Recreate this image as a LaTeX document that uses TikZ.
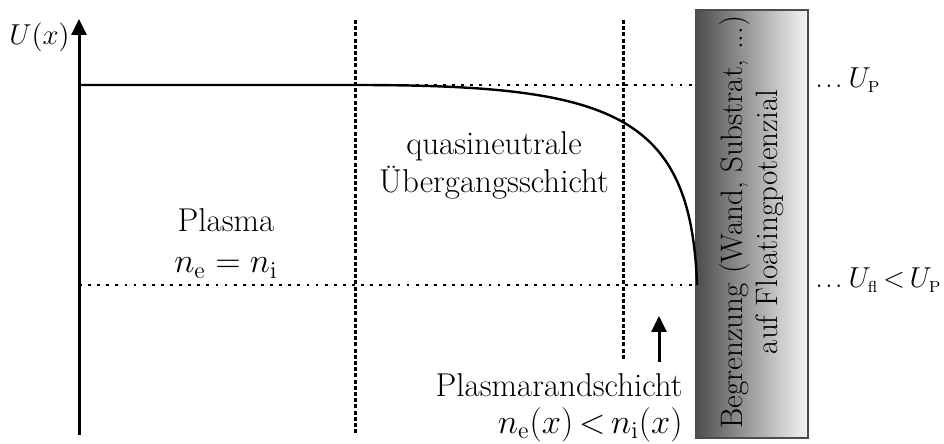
\documentclass[tikz,border=0pt]{standalone}
\usetikzlibrary{arrows.meta}
\begin{document}
\begin{tikzpicture}[x=0.5pt,y=-0.5pt,
  lbl/.style={font=\fontsize{16.5}{19.5}\selectfont, inner sep=0pt},
  rlbl/.style={font=\fontsize{15.5}{18}\selectfont, inner sep=0pt},
  dotline/.style={line width=1.4pt, dash pattern=on 1.4pt off 3.15pt},
  dashline/.style={line width=1.5pt, dash pattern=on 2pt off 1.1pt},
  axisline/.style={line width=1.5pt},
  curveline/.style={line width=1.2pt},
  tip/.style={-{Triangle[length=8pt,width=7.5pt]}}]
\useasboundingbox (0,0) rectangle (944,444);
% coordinates
\coordinate (ax0) at (79,435);
\coordinate (ax1) at (79,19);
\coordinate (upL) at (79,85);
\coordinate (upR) at (696,85);
\coordinate (ufL) at (79,285);
\coordinate (ufR) at (696,285);
\coordinate (d1t) at (355,20);
\coordinate (d1b) at (355,435);
\coordinate (d2t) at (623,20);
\coordinate (d2b) at (623,360);
\coordinate (c0) at (355,85);
\coordinate (c1) at (697,285);
\coordinate (ar0) at (659,362);
\coordinate (ar1) at (659,316);
% wall box
\node[draw=black!70, line width=0.6pt, left color=black!70, right color=black!4, minimum width=56pt, minimum height=214pt, inner sep=0pt] (wall) at (752,224) {};
\node[font=\fontsize{15.5}{17.5}\selectfont, inner sep=0pt, rotate=90, align=center] (walltext) at (752,222) {Begrenzung (Wand, Substrat, ...)\\auf Floatingpotenzial};
% dotted levels
\draw[dotline] (upL) -- (upR);
\draw[dotline] (ufL) -- (ufR);
% dashed separators
\draw[dashline] (d1t) -- (d1b);
\draw[dashline] (d2t) -- (d2b);
% axis
\draw[axisline, tip] (ax0) -- (ax1);
\node[font=\fontsize{15}{18}\selectfont, inner sep=0pt, anchor=base east] (ulab) at (70,45) {$U(x)$};
% potential curve
\draw[curveline] (upL) -- (c0) .. controls (610,85) and (691,112) .. (c1);
% sheath arrow
\draw[axisline, tip] (ar0) -- (ar1);
% labels
\node[lbl, anchor=base] (plasma) at (226,232) {Plasma};
\node[lbl, anchor=base] (neni) at (226,273) {$n_\mathrm{e} = n_\mathrm{i}$};
\node[lbl, anchor=base, align=center] (quasi) at (494,193) {quasineutrale\\Übergangsschicht};
\node[lbl, anchor=base east] (rand) at (683,396) {Plasmarandschicht};
\node[lbl, anchor=base east] (nx) at (683,433) {$\thickmuskip=3mu n_\mathrm{e}(x) < n_\mathrm{i}(x)$};
\node[rlbl, anchor=base west] (up) at (815,88) {.\kern1pt.\kern1pt.\kern3pt$U_{\scriptscriptstyle\mathrm{P}}$};
\node[rlbl, anchor=base west] (uf) at (815,288) {.\kern1pt.\kern1pt.\kern3pt$\thickmuskip=3mu U_{\scriptscriptstyle\mathrm{fl}} < U_{\scriptscriptstyle\mathrm{P}}$};
\end{tikzpicture}
\end{document}
